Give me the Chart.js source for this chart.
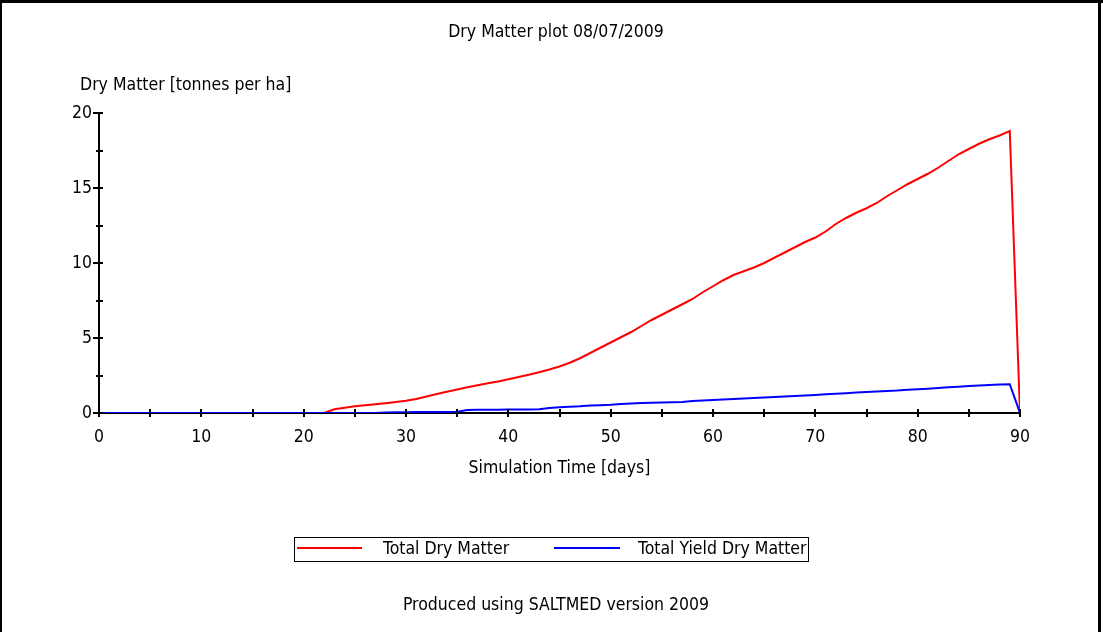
<!DOCTYPE html>
<html>
<head>
<meta charset="utf-8">
<script src="https://cdn.jsdelivr.net/npm/chart.js@4.4.1/dist/chart.umd.min.js"></script>
<style>
  html, body { margin: 0; padding: 0; background: #ffffff; }
  #wrap { position: relative; width: 1103px; height: 632px; }
</style>
</head>
<body>
<div id="wrap"><canvas id="c" width="1103" height="632"></canvas></div>
<script>
const chartTitle = "Dry Matter plot 08/07/2009";
const yAxisTitle = "Dry Matter [tonnes per ha]";
const xAxisTitle = "Simulation Time [days]";
const footerText = "Produced using SALTMED version 2009";
const seriesLabels = ["Total Dry Matter", "Total Yield Dry Matter"];
const seriesColors = ["#ff0000", "#0000ff"];
const xTickValues = [0, 10, 20, 30, 40, 50, 60, 70, 80, 90];
const yTickValues = [0, 5, 10, 15, 20];

const days = [];
for (let d = 0; d <= 90; d++) days.push(d);

const totalDryMatter = [
  0,0,0,0,0,0,0,0,0,0,            // 0-9
  0,0,0,0,0,0,0,0,0,0,            // 10-19
  0,0,0,0.25,0.35,0.45,0.52,0.58,0.65,0.73, // 20-29
  0.82,0.93,1.1,1.27,1.42,1.57,1.72,1.85,1.98,2.1, // 30-39
  2.25,2.4,2.55,2.72,2.9,3.1,3.35,3.65,4.0,4.35,   // 40-49
  4.7,5.05,5.4,5.8,6.2,6.55,6.9,7.25,7.6,8.05,     // 50-59
  8.45,8.85,9.2,9.45,9.7,10.0,10.35,10.7,11.05,11.4, // 60-69
  11.7,12.1,12.6,13.0,13.35,13.65,14.0,14.45,14.85,15.25, // 70-79
  15.6,15.95,16.35,16.8,17.25,17.6,17.95,18.25,18.5,18.8, // 80-89
  0                                // 90
];

const totalYieldDryMatter = [
  0,0,0,0,0,0,0,0,0,0,
  0,0,0,0,0,0,0,0,0,0,
  0,0,0,0,0,0,0,0,0.04,0.05,
  0.05,0.06,0.06,0.07,0.07,0.08,0.2,0.21,0.22,0.22,
  0.23,0.23,0.24,0.25,0.33,0.38,0.42,0.45,0.5,0.52,
  0.55,0.6,0.63,0.66,0.68,0.7,0.72,0.74,0.8,0.84,
  0.87,0.9,0.93,0.97,1.0,1.03,1.06,1.1,1.13,1.16,
  1.2,1.25,1.28,1.32,1.36,1.4,1.44,1.47,1.5,1.55,
  1.58,1.62,1.67,1.71,1.75,1.8,1.83,1.86,1.9,1.92,
  0
];

const FONT = "'Liberation Sans Narrow', 'DejaVu Sans Condensed', 'Liberation Sans', sans-serif";
const FSIZE = 17.5;

function toPoints(xs, ys) { return xs.map((x, i) => ({ x: x, y: ys[i] })); }

const decorPlugin = {
  id: 'decor',
  afterDraw(chart) {
    const ctx = chart.ctx;
    const xs = chart.scales.x, ys = chart.scales.y;
    ctx.save();
    // frame
    ctx.fillStyle = '#000';
    ctx.fillRect(0, 0, 1103, 3);
    ctx.fillRect(0, 0, 2, 632);
    ctx.fillRect(1098, 0, 3, 632);

    // ticks on axes
    ctx.strokeStyle = '#000';
    ctx.lineWidth = 2;
    ctx.beginPath();
    for (let v = 0; v <= 90; v += 5) {
      const px = Math.round(xs.getPixelForValue(v));
      ctx.moveTo(px, ys.bottom - 4);
      ctx.lineTo(px, ys.bottom + 4);
    }
    for (let v = 0; v <= 20; v += 2.5) {
      const py = Math.round(ys.getPixelForValue(v));
      const major = (v % 5 === 0);
      ctx.moveTo(xs.left - (major ? 6 : 3), py);
      ctx.lineTo(xs.left + 4, py);
    }
    ctx.stroke();

    // texts
    ctx.fillStyle = '#000';
    ctx.font = FSIZE + 'px ' + FONT;
    ctx.textBaseline = 'middle';
    ctx.textAlign = 'center';
    ctx.fillText(chartTitle, 556, 32);
    ctx.fillText(xAxisTitle, (xs.left + xs.right) / 2, 468);
    ctx.fillText(footerText, 556, 605);
    ctx.textAlign = 'left';
    ctx.fillText(yAxisTitle, 80, 85);

    // legend box
    ctx.lineWidth = 1;
    ctx.strokeStyle = '#000';
    ctx.strokeRect(294.5, 537.5, 514, 24);
    const items = [
      { lx0: 297, lx1: 362, tx: 383 },
      { lx0: 554, lx1: 620, tx: 638 }
    ];
    chart.data.datasets.forEach((ds, i) => {
      const it = items[i];
      ctx.strokeStyle = ds.borderColor;
      ctx.lineWidth = 2;
      ctx.beginPath();
      ctx.moveTo(it.lx0, 548);
      ctx.lineTo(it.lx1, 548);
      ctx.stroke();
      ctx.fillStyle = '#000';
      ctx.fillText(ds.label, it.tx, 549);
    });
    ctx.restore();
  }
};

new Chart(document.getElementById('c'), {
  type: 'line',
  data: {
    datasets: [
      {
        label: seriesLabels[0],
        data: toPoints(days, totalDryMatter),
        borderColor: seriesColors[0],
        backgroundColor: seriesColors[0],
        borderWidth: 2,
        pointRadius: 0,
        tension: 0,
        fill: false,
        order: 2
      },
      {
        label: seriesLabels[1],
        data: toPoints(days, totalYieldDryMatter),
        borderColor: seriesColors[1],
        backgroundColor: seriesColors[1],
        borderWidth: 2,
        pointRadius: 0,
        tension: 0,
        fill: false,
        order: 1
      }
    ]
  },
  options: {
    responsive: false,
    animation: false,
    devicePixelRatio: 1,
    layout: { padding: { left: 0, top: 113, right: 83, bottom: 179 } },
    plugins: {
      legend: { display: false },
      title: { display: false },
      tooltip: { enabled: false }
    },
    scales: {
      x: {
        type: 'linear',
        min: 0, max: 90,
        afterFit(scale) { scale.height = 40; },
        afterBuildTicks(scale) { scale.ticks = xTickValues.map(v => ({ value: v })); },
        grid: { display: true, drawOnChartArea: false, drawTicks: false },
        border: { display: true, color: '#000', width: 2 },
        ticks: {
          color: '#000',
          padding: 14,
          maxRotation: 0,
          autoSkip: false,
          font: { family: FONT, size: FSIZE }
        }
      },
      y: {
        type: 'linear',
        min: 0, max: 20,
        afterFit(scale) { scale.width = 99; },
        afterBuildTicks(scale) { scale.ticks = yTickValues.map(v => ({ value: v })); },
        grid: { display: true, drawOnChartArea: false, drawTicks: false },
        border: { display: true, color: '#000', width: 2 },
        ticks: {
          color: '#000',
          padding: 7,
          autoSkip: false,
          font: { family: FONT, size: FSIZE }
        }
      }
    }
  },
  plugins: [decorPlugin]
});
</script>
</body>
</html>
